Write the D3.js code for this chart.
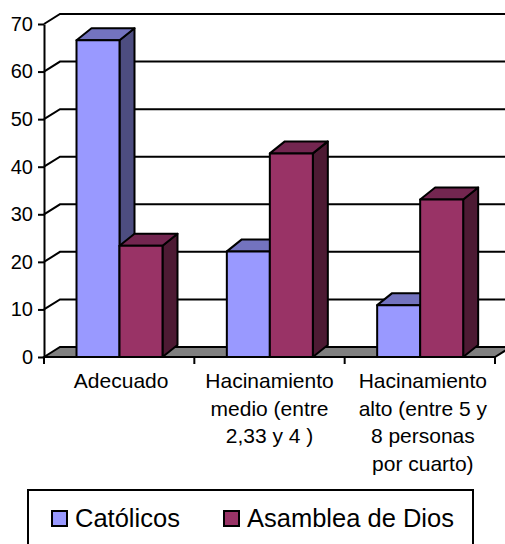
<!DOCTYPE html>
<html>
<head>
<meta charset="utf-8">
<script src="https://cdn.jsdelivr.net/npm/d3@7"></script>
<style>
  html, body { margin: 0; padding: 0; background: #fff; overflow: hidden; }
  svg { display: block; }
  text { font-family: "Liberation Sans", Arial, sans-serif; fill: #000; }
</style>
</head>
<body>
<svg id="chart" width="505" height="544"></svg>
<script>
const categories = ['Adecuado', 'Hacinamiento medio', 'Hacinamiento alto'];
const catLabels = [
  ['Adecuado'],
  ['Hacinamiento', 'medio (entre', '2,33 y 4 )'],
  ['Hacinamiento', 'alto (entre 5 y', '8 personas', 'por cuarto)']
];
const seriesNames = ['Católicos', 'Asamblea de Dios'];
const catolicos = [66.6, 22.2, 10.9];
const asamblea  = [23.4, 42.8, 33.1];
const yTicks = [0, 10, 20, 30, 40, 50, 60, 70];

// front, top and side face of each series
const faces = [
  { front: '#9999ff', top: '#7373bf', side: '#4d4d80' },
  { front: '#993366', top: '#732650', side: '#4d1a33' }
];

const DX = 16, DY = 10;        // wall/floor depth
const BDX = 15, BDY = 12;      // bar depth
const labelNudge = [2, 0, 3];  // the labels are not quite centred on their bands

const svg = d3.select('#chart');
const y = d3.scaleLinear().domain([0, 70]).range([357, 24]);
const x0 = d3.scaleBand().domain(categories).range([44, 495]);
const x1 = d3.scaleBand().domain(seriesNames).range([32.5, 118.5]);

// floor
svg.append('polygon')
  .attr('points', [[44, y(0)], [44 + DX, y(0) - DY], [495 + DX, y(0) - DY], [495, y(0)]].join(' '))
  .attr('fill', '#808080').attr('stroke', '#000').attr('stroke-width', 2);

// grid lines run along the back wall, with a short diagonal on the left wall
const grid = svg.append('g').attr('fill', 'none').attr('stroke', '#000').attr('stroke-width', 2);
grid.selectAll('path').data(yTicks.filter(d => d > 0)).join('path')
  .attr('d', d => `M44,${y(d)}L${44 + DX},${y(d) - DY}L505,${y(d) - DY}`);

// y axis
const yAxis = svg.append('g').attr('transform', 'translate(44,0)')
  .call(d3.axisLeft(y).tickValues(yTicks).tickSize(6).tickPadding(5).tickSizeOuter(0));
yAxis.select('.domain').attr('stroke', '#000').attr('stroke-width', 2);
yAxis.selectAll('.tick line').attr('stroke', '#000').attr('stroke-width', 2);
yAxis.selectAll('text').attr('font-size', 20).attr('font-family', '"Liberation Sans", Arial, sans-serif').attr('fill', '#000');

// x axis line and ticks between the categories
const xAxis = svg.append('g').attr('stroke', '#000').attr('stroke-width', 2);
xAxis.append('line').attr('x1', 44).attr('x2', 495).attr('y1', y(0)).attr('y2', y(0));
xAxis.selectAll('line.t').data(categories.concat('end')).join('line').attr('class', 't')
  .attr('x1', (d, i) => i < 3 ? x0(d) : 495)
  .attr('x2', (d, i) => i < 3 ? x0(d) : 495)
  .attr('y1', y(0)).attr('y2', y(0) + 7);

// bars
const bars = [];
categories.forEach((c, i) => {
  bars.push({ c, s: 0, v: catolicos[i] });
  bars.push({ c, s: 1, v: asamblea[i] });
});
const barG = svg.append('g').attr('stroke', '#000').attr('stroke-width', 2).attr('stroke-linejoin', 'round');
const bar = barG.selectAll('g').data(bars).join('g');
const left = d => x0(d.c) + x1(seriesNames[d.s]);
const right = d => left(d) + x1.bandwidth();
bar.append('polygon').attr('fill', d => faces[d.s].side)
  .attr('points', d => [[right(d), y(0)], [right(d) + BDX, y(0) - BDY], [right(d) + BDX, y(d.v) - BDY], [right(d), y(d.v)]].join(' '));
bar.append('polygon').attr('fill', d => faces[d.s].top)
  .attr('points', d => [[left(d), y(d.v)], [left(d) + BDX, y(d.v) - BDY], [right(d) + BDX, y(d.v) - BDY], [right(d), y(d.v)]].join(' '));
bar.append('rect').attr('fill', d => faces[d.s].front)
  .attr('x', left).attr('y', d => y(d.v)).attr('width', x1.bandwidth()).attr('height', d => y(0) - y(d.v));

// category labels
svg.append('g').selectAll('text').data(categories).join('text')
  .attr('text-anchor', 'middle').attr('font-size', 21)
  .attr('x', (d, i) => x0(d) + x0.bandwidth() / 2 + labelNudge[i])
  .attr('y', 388)
  .selectAll('tspan').data((d, i) => catLabels[i]).join('tspan')
  .attr('x', function() { return d3.select(this.parentNode).attr('x'); })
  .attr('dy', (d, i) => i ? 27.7 : 0)
  .text(d => d);

// legend
const legend = svg.append('g');
legend.append('rect').attr('x', 28).attr('y', 490).attr('width', 445).attr('height', 60)
  .attr('fill', '#fff').attr('stroke', '#000').attr('stroke-width', 2);
const legendX = [52, 224];
const item = legend.selectAll('g').data(seriesNames).join('g')
  .attr('transform', (d, i) => `translate(${legendX[i]},511)`);
item.append('rect').attr('width', 15).attr('height', 15)
  .attr('fill', (d, i) => faces[i].front).attr('stroke', '#000').attr('stroke-width', 2);
item.append('text').attr('x', 23).attr('y', 16).attr('font-size', 25.5).text(d => d);
</script>
</body>
</html>
